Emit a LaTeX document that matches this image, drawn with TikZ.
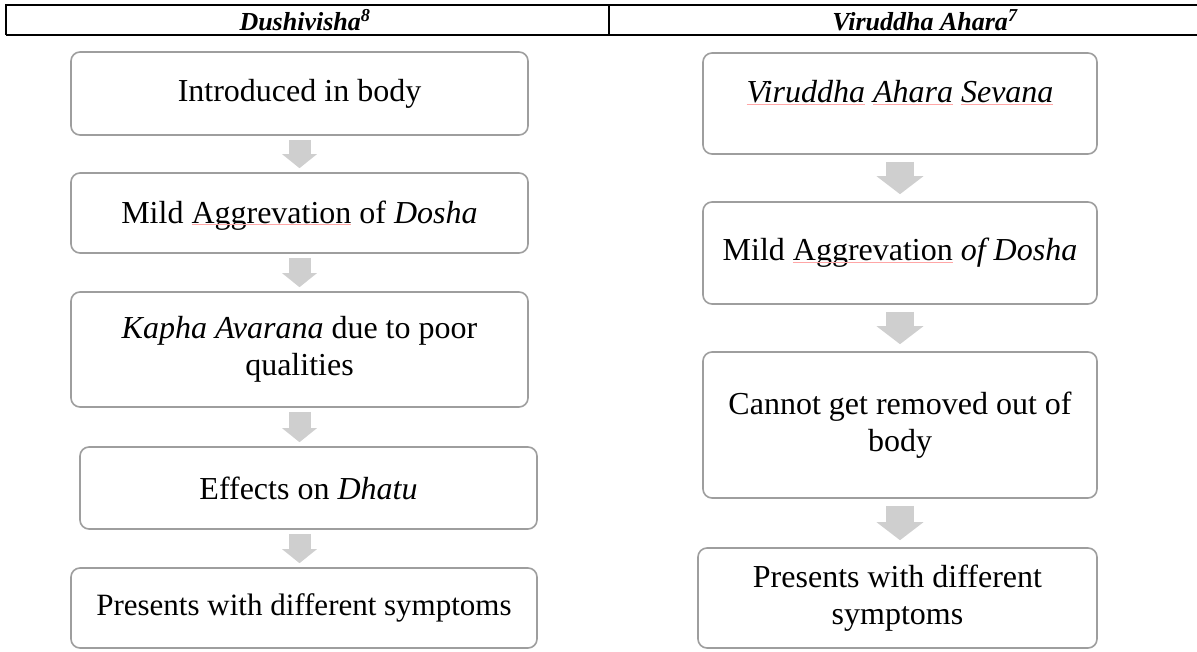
\documentclass[tikz,border=0pt]{standalone}
\usepackage{fontspec}
\setmainfont{Liberation Serif}
\usepackage{xcolor}
\usepackage{tikz}
\usetikzlibrary{arrows.meta}
\tikzset{
    box/.style = {draw=black!38, line width=1.6pt, rounded corners=9pt, fill=white,
        inner sep=0pt, align=center, font=\fontsize{32}{37}\selectfont},
    head/.style = {inner sep=0pt, font=\fontsize{26}{30}\selectfont\bfseries\itshape},
    rule/.style = {line width=2pt, black},
    flowL/.style = {-{Triangle[width=34pt,length=14pt]}, line width=22pt, draw=black!19,
        shorten <=4pt, shorten >=4pt},
    flowR/.style = {-{Triangle[width=46pt,length=18pt]}, line width=28pt, draw=black!19,
        shorten <=7pt, shorten >=7pt}
}
\newcommand{\spell}[1]{{\color{red!35}\underline{\color{black}\smash{#1}}}}

\begin{document}
\begin{tikzpicture}[x=1pt, y=-1pt]
    \useasboundingbox (0, 0) rectangle (1197, 652);
    % table head
    \draw [rule] (6, 35) -- (6, 5) -- (1197, 5);
    \draw [rule] (6, 35) -- (1197, 35);
    \draw [rule] (609, 5) -- (609, 35);
    \node [head] (h1) at (305, 20) {Dushivisha\textsuperscript{8}};
    \node [head] (h2) at (925, 20) {Viruddha Ahara\textsuperscript{7}};
    % left column
    \node [box, minimum width=457pt, minimum height=83pt] (d1) at (299.5, 93.5) {Introduced in body};
    \node [box, minimum width=457pt, minimum height=80pt] (d2) at (299.5, 213) {Mild \spell{Aggrevation} of \textit{Dosha}};
    \node [box, minimum width=457pt, minimum height=115pt] (d3) at (299.5, 349.5) {\textit{Kapha Avarana} due to poor\\qualities};
    \node [box, minimum width=457pt, minimum height=82pt] (d4) at (308.5, 488) {Effects on \textit{Dhatu}};
    \node [box, minimum width=466pt, minimum height=80pt, font=\fontsize{31}{36}\selectfont] (d5) at (304, 608) {Presents with different symptoms};
    % right column
    \node [box, minimum width=394pt, minimum height=101pt] (v1) at (900, 103.5) {\textit{\spell{Viruddha} \spell{Ahara} \spell{Sevana}}};
    \node [box, minimum width=394pt, minimum height=102pt] (v2) at (900, 253) {Mild \spell{Aggrevation} \textit{of Dosha}};
    \node [box, minimum width=394pt, minimum height=146pt] (v3) at (900, 425) {Cannot get removed out of\\body};
    \node [box, minimum width=399pt, minimum height=100pt] (v4) at (897.5, 598) {Presents with different\\symptoms};
    % arrows
    \draw [flowL] (d1.south) -- (d2.north);
    \draw [flowL] (d2.south) -- (d3.north);
    \draw [flowL] (d3.south) -- (d1 |- d4.north);
    \draw [flowL] (d1 |- d4.south) -- (d1 |- d5.north);
    \draw [flowR] (v1.south) -- (v2.north);
    \draw [flowR] (v2.south) -- (v3.north);
    \draw [flowR] (v3.south) -- (v1 |- v4.north);
\end{tikzpicture}
\end{document}
